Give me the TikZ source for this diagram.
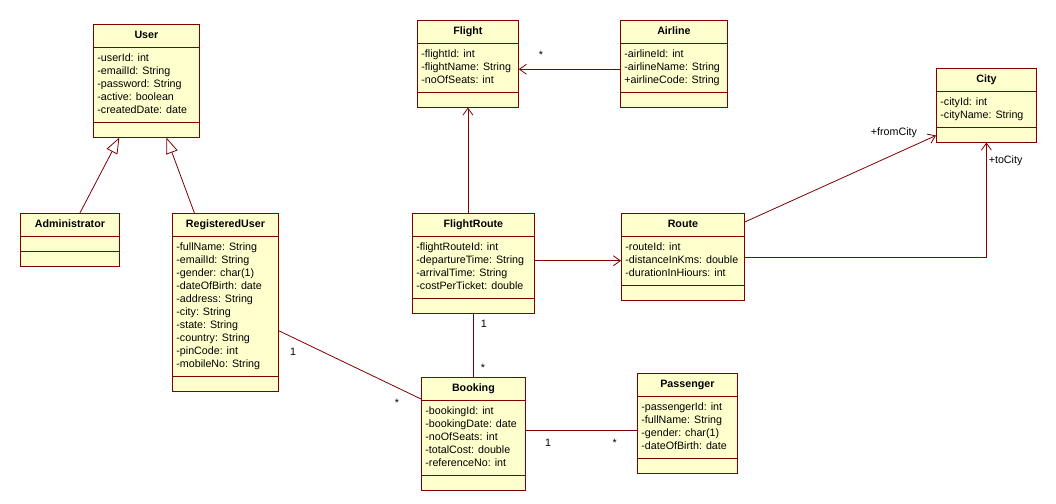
\documentclass[tikz,border=0pt]{standalone}
\usepackage{fontspec}
\setmainfont{Liberation Sans}
\usetikzlibrary{shapes.multipart,arrows.meta}

\definecolor{umlline}{RGB}{128,0,0}
\definecolor{umlfill}{RGB}{255,255,206}

\newcommand{\attrs}[1]{\begin{tabular}{@{}l@{}}#1\end{tabular}}

\tikzset{
  cls/.style={draw=umlline, fill=umlfill, line width=0.8pt,
    rectangle split, rectangle split parts=3,
    rectangle split ignore empty parts=false,
    rectangle split empty part height=1pt,
    rectangle split empty part depth=0pt,
    rectangle split part align={center,left,left},
    inner xsep=4pt, inner ysep=4.5pt, anchor=north west,
    font=\fontsize{10.7}{13}\selectfont},
  link/.style={draw=umlline, line width=0.8pt},
  nav/.style={link, -{Straight Barb[length=7pt,width=10pt]}},
  gen/.style={link, -{Triangle[open,length=16pt,width=12pt]}},
  mult/.style={font=\fontsize{10.7}{13}\selectfont, inner sep=1pt}
}

\begin{document}
\begin{tikzpicture}[x=1pt,y=-1pt]
\path[use as bounding box, fill=white] (0,0) rectangle (1056,503);

\node[cls, minimum width=106pt] at (93,24) (user) {\textbf{User}\strut
  \nodepart{two}\attrs{-userId: int\\-emailId: String\\-password: String\\-active: boolean\\-createdDate: date}
  \nodepart{three}};
\node[cls, minimum width=99pt] at (20,213) (admin) {\textbf{Administrator}\strut
  \nodepart{two}\nodepart{three}};
\node[cls, minimum width=106pt] at (172,213) (reg) {\textbf{RegisteredUser}\strut
  \nodepart{two}\attrs{-fullName: String\\-emailId: String\\-gender: char(1)\\-dateOfBirth: date\\-address: String\\-city: String\\-state: String\\-country: String\\-pinCode: int\\-mobileNo: String}
  \nodepart{three}};
\node[cls, minimum width=101pt] at (417,20) (flight) {\textbf{Flight}\strut
  \nodepart{two}\attrs{-flightId: int\\-flightName: String\\-noOfSeats: int}
  \nodepart{three}};
\node[cls, minimum width=107pt] at (620,20) (airline) {\textbf{Airline}\strut
  \nodepart{two}\attrs{-airlineId: int\\-airlineName: String\\+airlineCode: String}
  \nodepart{three}};
\node[cls, minimum width=122pt] at (412,213) (froute) {\textbf{FlightRoute}\strut
  \nodepart{two}\attrs{-flightRouteId: int\\-departureTime: String\\-arrivalTime: String\\-costPerTicket: double}
  \nodepart{three}};
\node[cls, minimum width=123pt] at (621,213) (route) {\textbf{Route}\strut
  \nodepart{two}\attrs{-routeId: int\\-distanceInKms: double\\-durationInHiours: int}
  \nodepart{three}};
\node[cls, minimum width=100pt] at (936,68) (city) {\textbf{City}\strut
  \nodepart{two}\attrs{-cityId: int\\-cityName: String}
  \nodepart{three}};
\node[cls, minimum width=104pt] at (421,377) (booking) {\textbf{Booking}\strut
  \nodepart{two}\attrs{-bookingId: int\\-bookingDate: date\\-noOfSeats: int\\-totalCost: double\\-referenceNo: int}
  \nodepart{three}};
\node[cls, minimum width=100pt] at (637,373) (pass) {\textbf{Passenger}\strut
  \nodepart{two}\attrs{-passengerId: int\\-fullName: String\\-gender: char(1)\\-dateOfBirth: date}
  \nodepart{three}};

% generalisation
\draw[gen] ([xshift=10pt]admin.north) -- ([xshift=-27pt]user.south);
\draw[gen] ([xshift=-31pt]reg.north) -- ([xshift=20pt]user.south);

% associations
\draw[nav] ([yshift=-5.5pt]airline.west) -- ([yshift=-5.5pt]flight.east)
  node[mult, pos=0.78, above=9pt] {*};
\draw[nav] (flight.south |- froute.north) -- (flight.south);
\draw[nav] ([yshift=2.5pt]froute.east) -- ([yshift=2.5pt]froute.east -| route.west);
\draw[nav] ([yshift=-9pt]route.north east) -- ([yshift=7pt]city.south west)
  node[mult, pos=0.78, above=15pt] {+fromCity};
\draw[nav] ([yshift=-1pt]route.east) -| (city.south)
  node[mult, pos=0.92, right=1pt] {+toCity};
\draw[link] (froute.south) -- (froute.south |- booking.north)
  node[mult, pos=0.17, right=6pt] {1}
  node[mult, pos=0.85, right=6pt] {*};
\draw[link] ([yshift=-28.5pt]reg.east) -- ([yshift=-22pt]booking.north west)
  node[mult, pos=0.1, below=9pt] {1}
  node[mult, pos=0.83, below=10pt] {*};
\draw[link] ([yshift=3pt]booking.east) -- ([yshift=3pt]booking.east -| pass.west)
  node[mult, pos=0.2, below=7pt] {1}
  node[mult, pos=0.8, below=7pt] {*};
\end{tikzpicture}
\end{document}
